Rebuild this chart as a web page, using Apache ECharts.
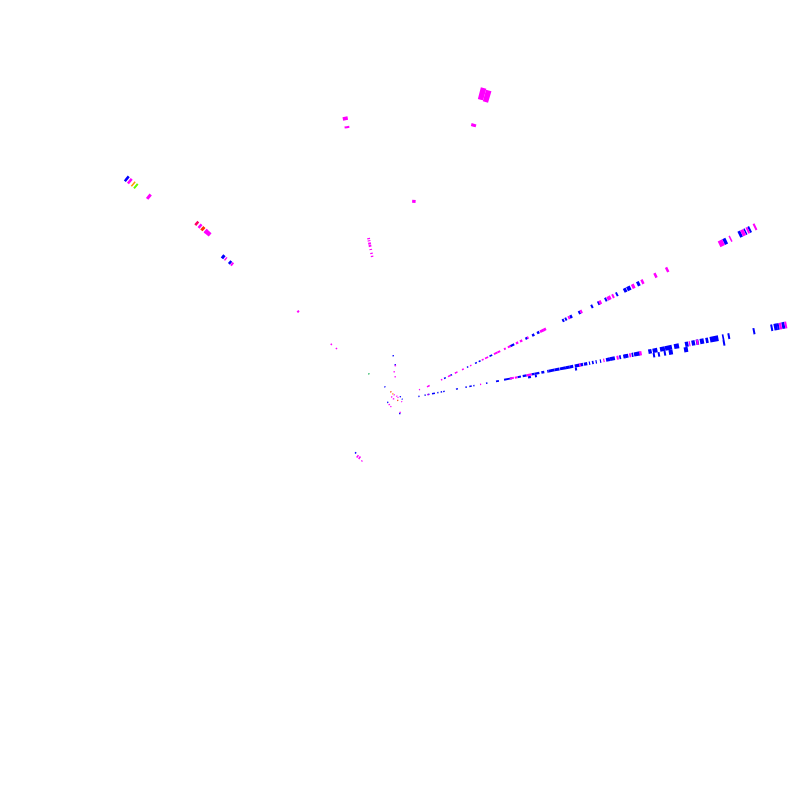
<!DOCTYPE html>
<html><head><meta charset="utf-8">
<style>html,body{margin:0;padding:0;background:#fff}#c{width:800px;height:800px}</style>
<script src="https://cdn.jsdelivr.net/npm/echarts@6/dist/echarts.min.js"></script>
</head><body><div id="c"></div>
<script>
// each cell: [radial start, angle in degrees, radial span]
const blueCells = [
[18.7,11,1],[25,11,1],[28,11,2],[32.6,11,3],[38,11,1],[41.4,11,1.5],[44,11,1.5],[57,11,2],[66.6,11,1.5],[70.6,11,2.5],[74.7,11,1],[87.6,11,1.5],[97.8,11,3],[106,11,6],[112,11,2],[119.7,11,3.5],[125,11,4],[134,11,3],[137,11,5],[144,11,3],[150,11,1.5],[151.5,11,6],[157.5,11,5],
[163,11,6],[169,11,4],[173,11,3.5],[178,11,5],[183.5,11,3],[187.4,11,3.4],[192.5,11,1],[195.6,11,1.7],[199.3,11,1],[203.7,11,1],[209.9,11,4],[213.9,11,5],[223.4,11,1.7],[227.5,11,2],[229.2,11,3.4],[236,11,1.7],[238.4,11,6],[253,11,3.4],[257.4,11,4.8],[264.9,11,5],[270,11,7],[279.2,11,5],[290.4,11,3.4],[297.1,11,3.4],[301.6,11,2.7],[305.6,11,4],[311.4,11,2.7],[315.8,11,8.5],[328.3,11,1.7],[334,11,2],[359.6,11,2],[377.7,11,2],[381,11,3.4],[384.3,11,2],[389,11,3],
[130,10,3],[137,10,2],[177.7,10,2],[256.9,10,2],[261.9,10,2],[268,10,2],[273,10,4],[288.4,10,4],[328,10,2],
[49,26,2],[56,26,2],[74.5,26,1.5],[83.5,26,2],[87.6,26,2],[99.6,26,3],[122.6,26,4.5],[139.5,26,2.5],[147,26,2.5],[152.5,26,2.5],[180.6,26,2],[183.6,26,2],[189,26,2.5],[198.6,26,2],[212.6,26,2],[220,26,2],[228,26,2],[240.3,26,2],[249,26,3],[252.6,26,4],[263.7,26,3],[360,26,3.5],[377,26,3],[383.5,26,1.5],[388,26,2],
[350.3,141,2.5],[226,141,3],[217.4,141,2.5],[68.3,230,1.5],
[44.2,98.7,1],[35,97.7,1],[19.4,139,1],[2.7,84,1],[1.8,22,1],[11.9,191,1],[12.7,269,1.5]
];
const magentaCells = [
[310,74,12],[311,75,12],[283,75,3],[285,101,3.5],[277,101,2],[197.5,86,3],
[163.8,101,1],[161.6,101,1],[158.5,101,2],[156,101,2],[152.7,101,1],[148.7,101,1],[145.7,101,1],
[28,11,1],[81.5,11,1],[112,11,4],[117,11,2.5],[129,11,5],[182.5,11,1.5],[207.1,11,1],[220.7,11,2],[233.6,11,1.7],[243.8,11,2.4],[294.4,11,1],[302,11,2],[386.4,11,2.4],[392,11,2],
[21.5,28,1],[30,26,3],[45.6,26,1.5],[53.4,26,3],[61,26,3],[69,26,2],[78,26,1.5],[91,26,2],[94.6,26,3.5],[104.5,26,4],[108.5,26,3],[115.7,26,2],[120,26,3],[129,26,2.5],[133.5,26,2.5],[141.5,26,1.5],[155.8,26,4],[159.4,26,3],[187,26,2],[200.6,26,2],[221.5,26,2.5],[230.5,26,4],[236,26,2],[258,26,3],[268.5,26,2.5],[283,26,2.5],[296,26,2.5],[355,26,5],[367,26,1.5],[380,26,3.5],[386,26,2],[394,26,2],
[346.4,141,2.5],[321.6,141,3],[263.7,139,2.5],[256.3,139,2],[251.6,139,6],[223.5,141,1.5],[215,141,2],[134,139,2],[87.6,141,1.5],[81,141,1.5],
[69,233,3],[69,235,3],[71.3,238,1],
[34,97.7,1],[28.3,101.6,1],[23.2,101.7,1],[7.2,139,1],[5.8,170,1.5],[8.2,160,1],[4.3,130,1],[2.6,130,1],[1.8,315,1],[10.9,203,1.5],[10.7,216,1],[11.7,271,1]
];
const orangeCells = [[342.5,141,1.5],[8.8,139.6,1]];
const redOrangeCells = [[259.7,139,3],[11.6,138.5,1],[1.7,190,1]];
const crimsonCells = [[268,139,2.5]];
const limeCells = [[338.9,141,2]];
const greenCells = [[40,140,1]];
const radiusMax = 400;

const groups = [
  [blueCells,'#0000ff'],[magentaCells,'#ff00ff'],[orangeCells,'#ff9900'],
  [redOrangeCells,'#ff3300'],[crimsonCells,'#ff0066'],[limeCells,'#66ff00'],[greenCells,'#00aa44']
];
function renderItem(params, api){
  const r0v = api.value(0), a = api.value(1), span = api.value(2);
  const cs = params.coordSys;
  const p0 = api.coord([r0v, a]), p1 = api.coord([r0v + span, a]);
  let r0 = Math.hypot(p0[0]-cs.cx, p0[1]-cs.cy);
  let r1 = Math.hypot(p1[0]-cs.cx, p1[1]-cs.cy);
  if (r1 - r0 < 1.2) r1 = r0 + 1.2;
  let half = 0.5 * Math.PI / 180;
  if (r1 * half * 2 < 1.5) half = 0.75 / Math.max(r1, 1);
  const mid = -a * Math.PI / 180;
  return {type:'sector', shape:{cx:cs.cx, cy:cs.cy, r0:r0, r:r1, startAngle:mid-half, endAngle:mid+half, clockwise:true},
    style:{fill:api.visual('color')}};
}
const chart = echarts.init(document.getElementById('c'), null, {width:800, height:800});
chart.setOption({
  animation:false, backgroundColor:'#ffffff',
  polar:{center:['50%','50%'], radius:400},
  angleAxis:{type:'value', min:0, max:360, startAngle:0, clockwise:false, show:false},
  radiusAxis:{type:'value', min:0, max:radiusMax, show:false},
  series: groups.map(g => ({type:'custom', coordinateSystem:'polar', renderItem, silent:true,
    itemStyle:{color:g[1]}, encode:{radius:0, angle:1}, data:g[0]}))
});
</script></body></html>
